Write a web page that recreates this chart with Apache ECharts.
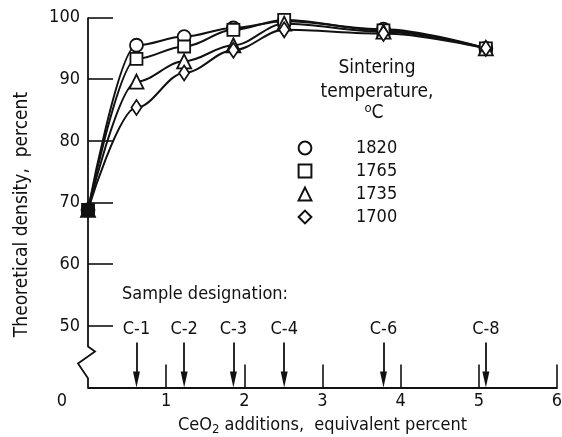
<!DOCTYPE html>
<html>
<head>
<meta charset="utf-8">
<script src="https://cdn.jsdelivr.net/npm/echarts@6/dist/echarts.min.js"></script>
<style>
  html, body { margin: 0; padding: 0; background: #fff; }
  #chart { width: 562px; height: 437px; }
</style>
</head>
<body>
<div id="chart"></div>
<script>
// CeO2 content of each sample (equivalent percent)
var sampleNames = ['C-1', 'C-2', 'C-3', 'C-4', 'C-6', 'C-8'];
var sampleX = [0.62, 1.23, 1.86, 2.51, 3.78, 5.09];

// x positions of measured points (0 = no addition)
var pointX = [0, 0.62, 1.23, 1.86, 2.51, 3.78, 5.09];

// theoretical density, percent, per sintering temperature
var temps = ['1820', '1765', '1735', '1700'];
var dens1820 = [68.8, 95.5, 96.9, 98.3, 99.4, 98.1, 95.0];
var dens1765 = [68.8, 93.3, 95.3, 98.0, 99.6, 97.9, 95.0];
var dens1735 = [68.8, 89.6, 92.9, 95.5, 99.0, 97.7, 95.0];
var dens1700 = [68.8, 85.4, 91.0, 94.7, 98.0, 97.4, 95.0];

var yTicks = [50, 60, 70, 80, 90, 100];
var xTicks = [1, 2, 3, 4, 5, 6];
var xLabels = [0, 1, 2, 3, 4, 5, 6];

var FONT = '"Liberation Sans Narrow", "DejaVu Sans Condensed", "Liberation Sans", sans-serif';
var INK = '#111';
var ARROW = 'path://M8,0 L11.5,16 L4.5,16 Z M0,8 L0,8 M16,8 L16,8';

var chart = echarts.init(document.getElementById('chart'));

function lineSeries(name, values, symbol, size) {
    return {
        name: name,
        type: 'line',
        smooth: 0.35,
        smoothMonotone: 'x',
        symbol: symbol,
        symbolSize: size,
        showAllSymbol: true,
        data: pointX.map(function (x, i) {
            if (i === 0) return { value: [x, values[i]], itemStyle: { color: INK } };
            return [x, values[i]];
        }),
        lineStyle: { color: INK, width: 2 },
        itemStyle: { color: '#fff', borderColor: INK, borderWidth: 1.8 },
        emphasis: { disabled: true },
        animation: false
    };
}

var option = {
    backgroundColor: '#fff',
    textStyle: { fontFamily: FONT, color: INK },
    grid: { left: 88, right: 5, top: 17.5, bottom: 49.5, outerBoundsMode: 'none' },
    legend: {
        data: temps,
        orient: 'vertical',
        left: 291,
        top: 134,
        itemWidth: 16,
        itemHeight: 16,
        itemGap: 5,
        selectedMode: false,
        lineStyle: { opacity: 0 },
        textStyle: { fontFamily: FONT, fontSize: 18, color: INK, padding: [0, 0, 0, 38] }
    },
    xAxis: {
        type: 'value',
        min: 0,
        max: 6,
        interval: 1,
        name: '{a|CeO}{s|2}{a| additions,  equivalent percent}',
        nameLocation: 'middle',
        nameGap: 27,
        nameTextStyle: {
            rich: {
                a: { fontFamily: FONT, fontSize: 18, color: INK },
                s: { fontFamily: FONT, fontSize: 13, color: INK, padding: [9, 0, 0, 0] }
            }
        },
        axisLine: { show: true, lineStyle: { color: INK, width: 1.8 } },
        axisTick: { show: true, inside: true, length: 23, customValues: xTicks, lineStyle: { color: INK, width: 1.6 } },
        axisLabel: {
            customValues: xLabels,
            margin: 5,
            fontSize: 18,
            color: INK,
            fontFamily: FONT,
            formatter: function (v) { return v === 0 ? '{z|0}' : String(v); },
            rich: { z: { fontSize: 18, fontFamily: FONT, color: INK, padding: [0, 52, 0, 0] } }
        },
        splitLine: { show: false }
    },
    yAxis: {
        type: 'value',
        min: 40,
        max: 100,
        interval: 10,
        name: 'Theoretical density,  percent',
        nameLocation: 'middle',
        nameRotate: 90,
        nameGap: 56,
        nameTextStyle: { fontFamily: FONT, fontSize: 19, color: INK, padding: [0, 24, 0, 0] },
        axisLine: { show: false },
        axisTick: { show: true, inside: true, length: 25, customValues: yTicks, lineStyle: { color: INK, width: 1.6 } },
        axisLabel: { customValues: yTicks, margin: 8, fontSize: 18, color: INK, fontFamily: FONT },
        splitLine: { show: false }
    },
    series: [
        lineSeries(temps[0], dens1820, 'circle', 13),
        lineSeries(temps[1], dens1765, 'rect', 12),
        lineSeries(temps[2], dens1735, 'triangle', 14),
        lineSeries(temps[3], dens1700, 'diamond', [10, 15]),
        {
            name: 'samples',
            type: 'scatter',
            data: [],
            silent: true,
            animation: false,
            markLine: {
                silent: true,
                animation: false,
                symbol: ['none', ARROW],
                symbolSize: 16,
                lineStyle: { color: INK, width: 1.8, type: 'solid' },
                label: {
                    show: true,
                    position: 'start',
                    distance: 4,
                    formatter: '{b}',
                    fontFamily: FONT,
                    fontSize: 18,
                    color: INK
                },
                data: sampleX.map(function (x, i) {
                    return [
                        { coord: [x, 47.3], name: sampleNames[i] },
                        { coord: [x, 41.3] }
                    ];
                })
            }
        }
    ]
};

chart.setOption(option);

// broken y axis line and text blocks
var x0 = chart.convertToPixel({ xAxisIndex: 0 }, 0);
var yTop = chart.convertToPixel({ yAxisIndex: 0 }, 100);
var yB1 = chart.convertToPixel({ yAxisIndex: 0 }, 46.65);
var yB2 = chart.convertToPixel({ yAxisIndex: 0 }, 45.85);
var yB3 = chart.convertToPixel({ yAxisIndex: 0 }, 43.9);
var yB4 = chart.convertToPixel({ yAxisIndex: 0 }, 41.5);
var yBot = chart.convertToPixel({ yAxisIndex: 0 }, 40);

function centered(text, x, y, size) {
    return {
        type: 'text',
        x: x,
        y: y,
        silent: true,
        style: { text: text, font: size + 'px ' + FONT, fill: INK, align: 'center', verticalAlign: 'middle' }
    };
}

chart.setOption({
    graphic: [
        {
            type: 'polyline',
            shape: { points: [[x0, yTop], [x0, yB1], [x0 + 7, yB2], [x0 - 10, yB3], [x0, yB4], [x0, yBot]] },
            style: { stroke: INK, lineWidth: 1.8, fill: null },
            silent: true
        },
        {
            type: 'text',
            left: 122,
            top: 285,
            style: { text: 'Sample designation:', font: '18px ' + FONT, fill: INK },
            silent: true
        },
        centered('Sintering', 377, 68, 19),
        centered('temperature,', 377, 92, 19),
        {
            type: 'text',
            x: 374,
            y: 113,
            silent: true,
            style: {
                text: '{o|o}{c|C}',
                align: 'center',
                verticalAlign: 'middle',
                rich: {
                    o: { font: '13px ' + FONT, fill: INK, padding: [0, 0, 9, 0] },
                    c: { font: '19px ' + FONT, fill: INK }
                }
            }
        }
    ]
});
</script>
</body>
</html>
